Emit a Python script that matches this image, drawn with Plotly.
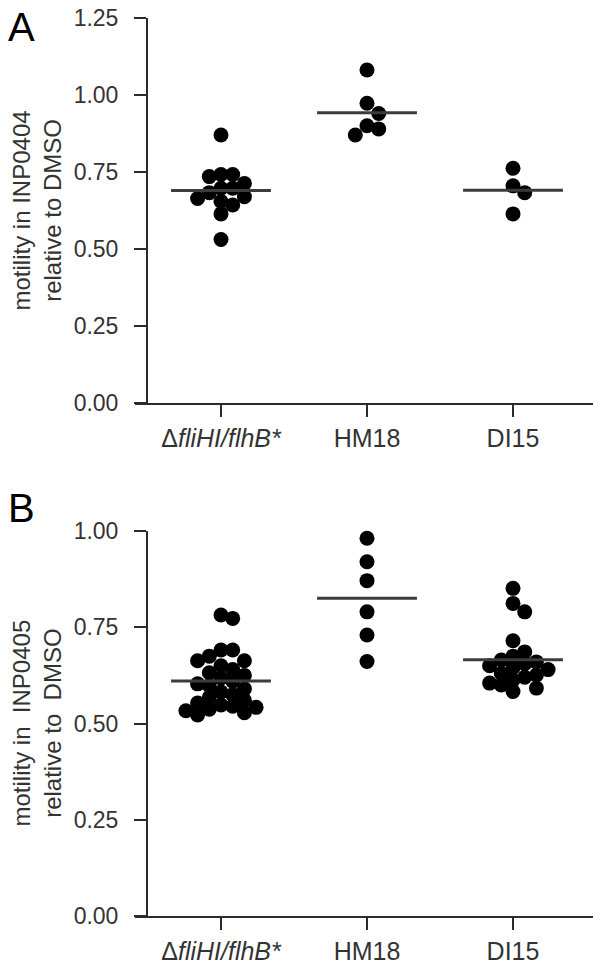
import numpy as np
import plotly.graph_objects as go

# ---------------- data ----------------
categories = ["Δ<i>fliHI/flhB*</i>", "HM18", "DI15"]

a_dflih = [0.870, 0.742, 0.735, 0.742, 0.713, 0.697, 0.683, 0.697, 0.670,
           0.643, 0.664, 0.654, 0.614, 0.531]
a_hm18 = [1.081, 0.973, 0.940, 0.900, 0.890, 0.870]
a_di15 = [0.762, 0.705, 0.683, 0.614]

b_dflih = [0.782, 0.773, 0.691, 0.691, 0.675, 0.663, 0.663, 0.650, 0.640,
           0.632, 0.625, 0.618, 0.610, 0.603, 0.598, 0.590, 0.582, 0.575,
           0.568, 0.560, 0.553, 0.548, 0.542, 0.537, 0.533, 0.528, 0.522,
           0.545]
b_hm18 = [0.981, 0.920, 0.871, 0.790, 0.730, 0.661]
b_di15 = [0.851, 0.812, 0.790, 0.715, 0.675, 0.686, 0.645, 0.665, 0.660,
          0.655, 0.650, 0.640, 0.630, 0.626, 0.620, 0.613, 0.605, 0.600,
          0.592, 0.583]

a_ticks = [0.00, 0.25, 0.50, 0.75, 1.00, 1.25]
b_ticks = [0.00, 0.25, 0.50, 0.75, 1.00]

a_title = "motility in INP0404<br>relative to DMSO"
b_title = "motility in\u00a0\u00a0INP0405<br>relative to\u00a0\u00a0DMSO"

# ---------------- layout constants (pixels) ----------------
W, H = 600, 965
X_LEFT, X_RIGHT, YAX_X = 135, 593, 147
CAT0_PX, CAT_STEP_PX = 221, 146
A_TOP, A_BOT = 18, 403
B_TOP, B_BOT = 531, 916
DOT = 15
STEP = 11.7
MIN_DIST = 11.5
HALF_LINE = 0.342

x_range = [(X_LEFT - CAT0_PX) / CAT_STEP_PX, (X_RIGHT - CAT0_PX) / CAT_STEP_PX]
FONT = "Liberation Sans, Arial, Helvetica, sans-serif"
AXC = "#2b2b2b"
TXT = "#333333"


def swarm(vals, px_per_y):
    """Simple beeswarm: offsets (in category units) so dots barely overlap."""
    vals = np.asarray(vals, dtype=float)
    order = np.argsort(-vals)
    placed = []
    offs = np.zeros(len(vals))
    cands = [0]
    for k in range(1, 12):
        cands += [k, -k]
    for idx in order:
        y = vals[idx] * px_per_y
        for k in cands:
            x = k * STEP
            if all((x - px) ** 2 + (y - py) ** 2 >= MIN_DIST ** 2 for px, py in placed):
                break
        placed.append((x, y))
        offs[idx] = x / CAT_STEP_PX
    return offs


fig = go.Figure()

panels = [
    ("x", "y", [a_dflih, a_hm18, a_di15], (A_BOT - A_TOP) / 1.25),
    ("x2", "y2", [b_dflih, b_hm18, b_di15], (B_BOT - B_TOP) / 1.00),
]

for xa, ya, groups, ppy in panels:
    for i, vals in enumerate(groups):
        offs = swarm(vals, ppy)
        fig.add_trace(go.Scatter(
            x=i + offs, y=vals, mode="markers", xaxis=xa, yaxis=ya,
            marker=dict(size=DOT, color="black", line=dict(width=0)),
            showlegend=False, cliponaxis=False, hoverinfo="y"))
        m = float(np.mean(vals))
        fig.add_trace(go.Scatter(
            x=[i - HALF_LINE, i + HALF_LINE], y=[m, m], mode="lines",
            xaxis=xa, yaxis=ya, line=dict(color="#3c3c3c", width=3),
            showlegend=False, hoverinfo="skip"))

common_x = dict(range=x_range, tickvals=[0, 1, 2], ticktext=categories,
                ticks="outside", ticklen=12, tickwidth=2, tickcolor=AXC,
                showline=True, linewidth=2, linecolor=AXC, showgrid=False,
                zeroline=False, tickfont=dict(family=FONT, size=25, color=TXT),
                domain=[X_LEFT / W, X_RIGHT / W], fixedrange=True,
                automargin=False)
common_y = dict(ticks="outside", ticklen=12, tickwidth=2, tickcolor=AXC,
                showline=True, linewidth=2, linecolor=AXC, showgrid=False,
                zeroline=False, tickformat=".2f", anchor="free",
                position=YAX_X / W, ticklabelstandoff=11, automargin=False,
                tickfont=dict(family=FONT, size=23, color=TXT), fixedrange=True)

fig.update_layout(
    width=W, height=H, margin=dict(l=0, r=0, t=0, b=0, pad=0),
    paper_bgcolor="white", plot_bgcolor="white",
    xaxis=dict(common_x, anchor="y"),
    xaxis2=dict(common_x, anchor="y2"),
    yaxis=dict(common_y, range=[0, 1.25], tickvals=a_ticks,
               domain=[1 - A_BOT / H, 1 - A_TOP / H]),
    yaxis2=dict(common_y, range=[0, 1.0], tickvals=b_ticks,
                domain=[1 - B_BOT / H, 1 - B_TOP / H]),
    annotations=[
        dict(text="A", x=6 / W, y=1 - 27 / H, xref="paper", yref="paper",
             xanchor="left", yanchor="middle", showarrow=False,
             font=dict(family=FONT, size=40, color="black")),
        dict(text="B", x=6 / W, y=1 - 508 / H, xref="paper", yref="paper",
             xanchor="left", yanchor="middle", showarrow=False,
             font=dict(family=FONT, size=40, color="black")),
        dict(text=a_title, textangle=-90, x=36 / W, y=1 - (A_TOP + A_BOT) / 2 / H,
             xref="paper", yref="paper", xanchor="center", yanchor="middle",
             showarrow=False, font=dict(family=FONT, size=24, color=TXT)),
        dict(text=b_title, textangle=-90, x=36 / W, y=1 - (B_TOP + B_BOT) / 2 / H,
             xref="paper", yref="paper", xanchor="center", yanchor="middle",
             showarrow=False, font=dict(family=FONT, size=24, color=TXT)),
    ],
)

fig.write_html("out.html", config={"displayModeBar": False},
               post_script="document.body.style.margin='0px';")
